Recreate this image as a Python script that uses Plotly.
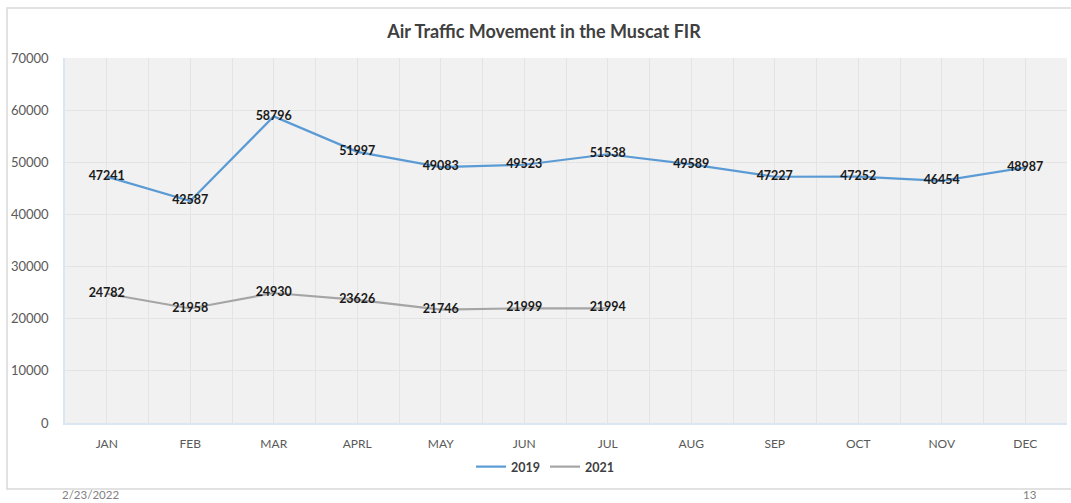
import plotly.graph_objects as go

months = ["JAN", "FEB", "MAR", "APRL", "MAY", "JUN", "JUL", "AUG", "SEP", "OCT", "NOV", "DEC"]
values_2019 = [47241, 42587, 58796, 51997, 49083, 49523, 51538, 49589, 47227, 47252, 46454, 48987]
values_2021 = [24782, 21958, 24930, 23626, 21746, 21999, 21994]
y_ticks = [0, 10000, 20000, 30000, 40000, 50000, 60000, 70000]

W, H = 1071, 503
L, R, T, B = 65, 4, 58, 80
pw, ph = W - L - R, H - T - B

def px(x):
    return (x - L) / pw

def py(y):
    return (H - B - y) / ph

xs = list(range(len(months)))
label_font = dict(family="Lato", size=12.5, color="#1a1a1a", weight="bold")

fig = go.Figure()
fig.add_trace(go.Scatter(
    x=xs, y=values_2019, name="2019", mode="lines+text",
    line=dict(color="#5B9BD5", width=2.2),
    text=[str(v) for v in values_2019], textposition="middle center",
    textfont=label_font,
))
fig.add_trace(go.Scatter(
    x=xs[:len(values_2021)], y=values_2021, name="2021", mode="lines+text",
    line=dict(color="#A5A5A5", width=2.2),
    text=[str(v) for v in values_2021], textposition="middle center",
    textfont=label_font,
))

fig.update_layout(
    width=W, height=H,
    margin=dict(l=L, r=R, t=T, b=B),
    paper_bgcolor="white", plot_bgcolor="#f1f1f1",
    title=dict(text="<b>Air Traffic Movement in the Muscat FIR</b>",
               xref="container", x=544 / W, xanchor="center",
               yref="container", y=1 - 32 / H, yanchor="middle",
               font=dict(family="Lato", size=18, color="#404040")),
    showlegend=True,
    legend=dict(orientation="h", x=px(545), xanchor="center", y=py(467), yanchor="middle",
                font=dict(family="Lato", size=12.5, color="#404040", weight="bold"),
                itemwidth=30, tracegroupgap=0, bgcolor="rgba(0,0,0,0)"),
    xaxis=dict(range=[-0.5, 11.5], tickmode="array", tickvals=xs, ticktext=months,
               showgrid=True, gridcolor="#e4e4e4", gridwidth=1.2,
               minor=dict(tickmode="array", tickvals=[i + 0.5 for i in range(-1, 12)],
                          showgrid=True, gridcolor="#e4e4e4", gridwidth=1.2),
               ticks="outside", ticklen=9, tickcolor="rgba(0,0,0,0)",
               tickfont=dict(family="Lato", size=12, color="#595959"),
               showline=True, linecolor="#dbe6f2", linewidth=1.5, zeroline=False, fixedrange=True),
    yaxis=dict(range=[0, 70000], tickmode="array", tickvals=y_ticks,
               ticktext=[str(v) for v in y_ticks],
               showgrid=True, gridcolor="#e4e4e4", gridwidth=1.2,
               ticks="outside", ticklen=12, tickcolor="rgba(0,0,0,0)",
               tickfont=dict(family="Lato", size=13, color="#595959"),
               showline=True, linecolor="#dbe6f2", linewidth=1.5, zeroline=False, fixedrange=True),
)

fig.add_shape(type="rect", xref="paper", yref="paper",
              x0=px(7), x1=px(1080), y0=py(489), y1=py(8),
              line=dict(color="#d9d9d9", width=1.5), fillcolor="rgba(0,0,0,0)", layer="below")

fig.add_annotation(text="2/23/2022", xref="paper", yref="paper", x=px(60), y=py(494),
                   xanchor="left", yanchor="middle", showarrow=False,
                   font=dict(family="Lato", size=11.5, color="#7f7f7f"))
fig.add_annotation(text="13", xref="paper", yref="paper", x=px(1030), y=py(494),
                   xanchor="center", yanchor="middle", showarrow=False,
                   font=dict(family="Lato", size=11.5, color="#7f7f7f"))

fig.write_html("out.html", config={"displayModeBar": False},
               post_script="document.body.style.margin='0';document.body.style.padding='0';document.body.style.overflow='hidden';")
